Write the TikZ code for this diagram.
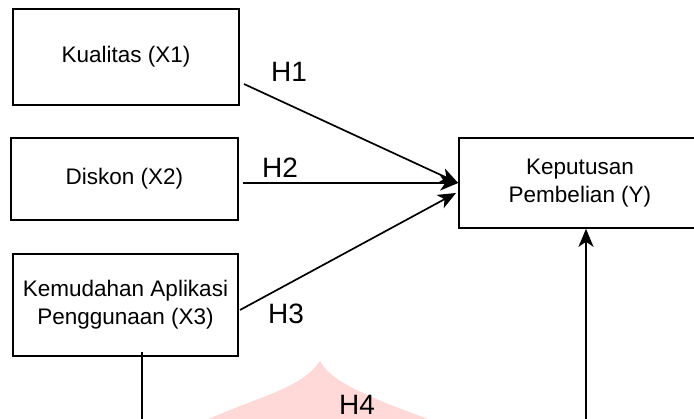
\documentclass[tikz,border=0pt]{standalone}
\usepackage{fontspec}
\setmainfont{Liberation Sans}
\usetikzlibrary{arrows.meta}
\definecolor{wmpink}{RGB}{255,216,216}
\tikzset{
  box/.style={draw=black, line width=1.6pt, inner sep=0pt, align=center,
    font=\fontsize{22.5}{28}\selectfont},
  conn/.style={line width=1.7pt, -{Stealth[length=18pt,width=15pt,inset=5pt]}},
  hlabel/.style={font=\fontsize{28}{30}\selectfont, inner sep=0pt}
}
\begin{document}
\begin{tikzpicture}[x=1pt,y=-1pt]
\path[use as bounding box] (0,0) rectangle (694,419);
\clip (0,0) rectangle (694,419);
\fill[white] (0,0) rectangle (694,419);
% watermark
\fill[wmpink] (195,425) .. controls (260,395) and (300,390) .. (320,361)
  .. controls (330,380) and (360,395) .. (445,425) -- cycle;
% boxes
\node[box, minimum width=226pt, minimum height=96pt] (x1) at (126,57) {Kualitas (X1)};
\node[box, minimum width=227pt, minimum height=82pt] (x2) at (124.5,179) {Diskon (X2)};
\node[box, minimum width=225pt, minimum height=102pt] (x3) at (125.5,305) {Kemudahan Aplikasi\\Penggunaan (X3)};
\node[box, minimum width=242pt, minimum height=90pt] (y) at (580,183) {Keputusan\\Pembelian (Y)};
% connector ends
\coordinate (s1) at (244,84);
\coordinate (s2) at (243,183);
\coordinate (s3) at (240,310);
\coordinate (t3) at (456,193);
\coordinate (s4) at (142,352);
\coordinate (b4) at (142,440);
\coordinate (c4) at (586,440);
\draw[conn] (s1) -- (y.west);
\draw[conn] (s2) -- (y.west);
\draw[conn] (s3) -- (t3);
\draw[conn] (s4) -- (b4) -- (c4) -- (c4 |- y.south);
% labels
\node[hlabel] (h1) at (289,72) {H1};
\node[hlabel] (h2) at (280,168) {H2};
\node[hlabel] (h3) at (286,314) {H3};
\node[hlabel] (h4) at (357,405) {H4};
\end{tikzpicture}
\end{document}
